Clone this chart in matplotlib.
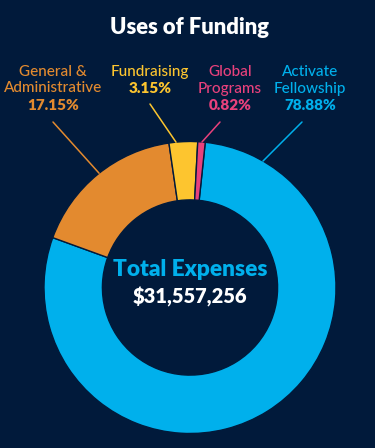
import matplotlib
matplotlib.use("Agg")
import matplotlib.pyplot as plt
import numpy as np

plt.rcParams['font.family'] = ['Lato', 'DejaVu Sans']

# ---- data ----
categories = ["Activate\nFellowship", "General &\nAdministrative", "Fundraising", "Global\nPrograms"]
values = [78.88, 17.15, 3.15, 0.82]
pct_labels = ["78.88%", "17.15%", "3.15%", "0.82%"]
total_label = "$31,557,256"
title = "Uses of Funding"

# ---- style ----
bg = "#011a3b"
colors = ["#00b0ec", "#e38a2f", "#fdc52f", "#e8417c"]
W, H, DPI = 375, 448, 100

fig = plt.figure(figsize=(W / DPI, H / DPI), dpi=DPI, facecolor=bg)

# pie axes: center (190, 287.5) px, radius 146 px
cx, cy, R = 190, 287.5, 146
half = 150
ax = fig.add_axes([(cx - half) / W, (H - cy - half) / H, 2 * half / W, 2 * half / H])
ax.set_facecolor(bg)
ax.pie(values, colors=colors, startangle=84, counterclock=False, radius=1,
       wedgeprops=dict(width=0.4, edgecolor=bg, linewidth=1.0))
lim = half / R
ax.set_xlim(-lim, lim)
ax.set_ylim(-lim, lim)
ax.set_aspect('equal')
ax.axis('off')

# title
fig.text(189 / W, 1 - 28 / H, title, color="white", fontsize=15.8, fontweight="heavy",
         ha="center", va="center")

# center text
ax.text(0, 0.125, "Total Expenses", color=colors[0], fontsize=16.3, fontweight="heavy",
        ha="center", va="center")
ax.text(0, -0.065, total_label, color="white", fontsize=14.5, fontweight="heavy",
        ha="center", va="center")

# outside labels: (label x px, first line y px, leader start px, leader angle deg)
label_pos = {
    0: (310, 72, (302, 122), 60),
    1: (53, 72, (53, 122), 128.5),
    2: (150, 72, (150, 104), 95.5),
    3: (230, 72, (220, 122), 85.3),
}
step = 16.5
for i, (lx, ly, (sx, sy), ang) in label_pos.items():
    lines = categories[i].split("\n")
    for k, line in enumerate(lines):
        fig.text(lx / W, 1 - (ly + k * step) / H, line, color=colors[i], fontsize=11,
                 fontweight="medium", ha="center", va="center")
    py = ly + step * len(lines)
    fig.text(lx / W, 1 - py / H, pct_labels[i], color=colors[i], fontsize=11,
             fontweight="heavy", ha="center", va="center")
    a = np.deg2rad(ang)
    ax.annotate("", xy=(np.cos(a), np.sin(a)), xycoords="data",
                xytext=(sx, H - sy), textcoords="figure pixels",
                arrowprops=dict(arrowstyle="-", color=colors[i], lw=1.1,
                                shrinkA=0, shrinkB=0))

fig.savefig("out.png", dpi=DPI, facecolor=bg)
